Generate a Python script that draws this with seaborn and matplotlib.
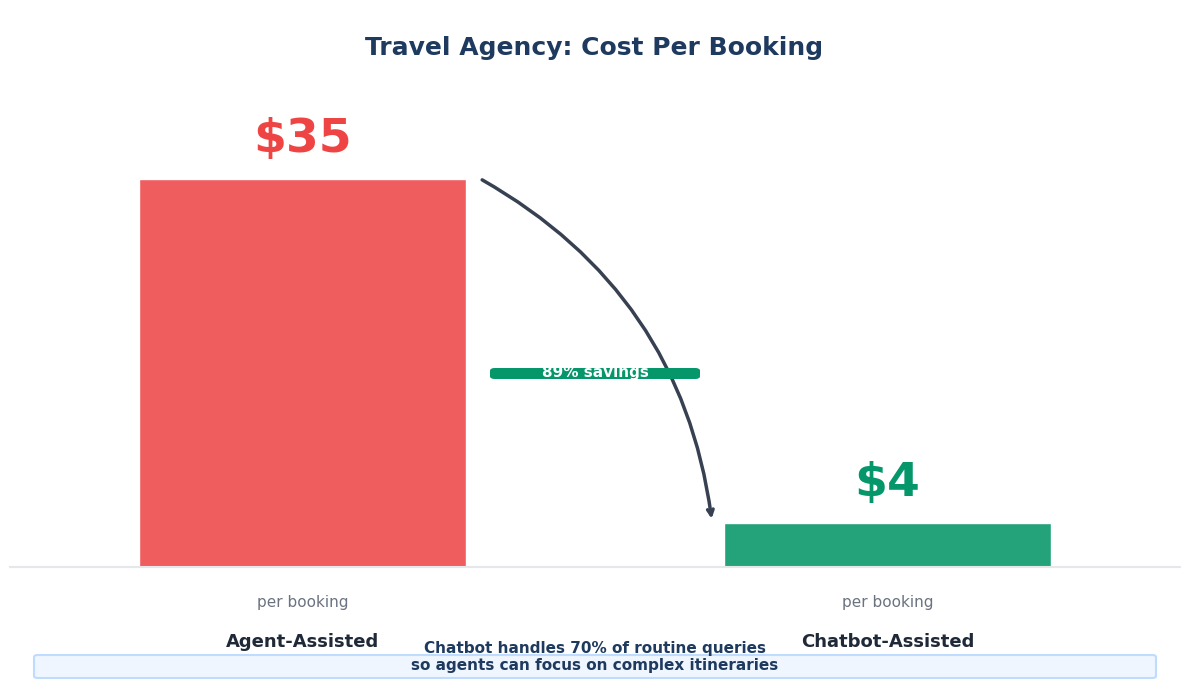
import matplotlib
matplotlib.use("Agg")
import matplotlib.pyplot as plt
import seaborn as sns
from matplotlib.patches import FancyBboxPatch

categories = ["Agent-Assisted", "Chatbot-Assisted"]
costs = [35, 4]
value_labels = ["$35", "$4"]
bar_colors = ["#f05d5e", "#24a37a"]
label_colors = ["#ef4444", "#059669"]

sns.set_style("white")
plt.rcParams["font.family"] = ["DejaVu Sans"]

fig = plt.figure(figsize=(11.89, 6.9), dpi=100)
ax = fig.add_axes([10 / 1189, 1 - 567 / 690, 1170 / 1189, 500 / 690])

sns.barplot(x=categories, y=costs, hue=categories, palette=bar_colors,
            width=0.56, saturation=1, legend=False, ax=ax)
ax.set_xlim(-0.5, 1.5)
ax.set_ylim(0, 500 / 11.1)
sns.despine(ax=ax, left=True)
ax.spines["bottom"].set_color("#e5e7eb")
ax.spines["bottom"].set_linewidth(1.5)
ax.set_yticks([])
ax.set_xticks([])
ax.set_xlabel("")
ax.set_ylabel("")

for i, (v, lab) in enumerate(zip(costs, value_labels)):
    ax.text(i, v + 1.5, lab, ha="center", va="bottom", fontsize=34,
            fontweight="bold", color=label_colors[i])
    ax.text(i, -3.2, "per booking", ha="center", va="center", fontsize=11, color="#6b7280")
    ax.text(i, -6.8, categories[i], ha="center", va="center", fontsize=13,
            fontweight="bold", color="#1f2937")

# curved arrow from the tall bar down to the small one
ax.annotate("", xy=(0.70, 4.1), xytext=(0.303, 35),
            arrowprops=dict(arrowstyle="->", color="#374151", lw=2.5,
                            connectionstyle="arc3,rad=-0.25"))

# savings badge
badge = FancyBboxPatch((490 / 1189, 1 - 379 / 690), 210 / 1189, 11 / 690,
                       boxstyle="round,pad=0,rounding_size=0.004",
                       transform=fig.transFigure, facecolor="#059669",
                       edgecolor="none", zorder=5)
fig.patches.append(badge)
fig.text(595 / 1189, 1 - 373 / 690, "89% savings", ha="center", va="center",
         fontsize=11, fontweight="bold", color="white", zorder=6)

fig.text(0.5, 1 - 48 / 690, "Travel Agency: Cost Per Booking", ha="center",
         va="center", fontsize=18, fontweight="bold", color="#1e3a5f")

footer = FancyBboxPatch((34 / 1189, 1 - 678 / 690), 1122 / 1189, 23 / 690,
                        boxstyle="round,pad=0,rounding_size=0.003",
                        transform=fig.transFigure, facecolor="#eff6ff",
                        edgecolor="#bfdbfe", lw=1.5)
fig.patches.append(footer)
fig.text(0.5, 1 - 657 / 690,
         "Chatbot handles 70% of routine queries\nso agents can focus on complex itineraries",
         ha="center", va="center", fontsize=11, fontweight="bold",
         color="#1e3a5f", linespacing=1.15)

fig.savefig("out.png", dpi=100)
